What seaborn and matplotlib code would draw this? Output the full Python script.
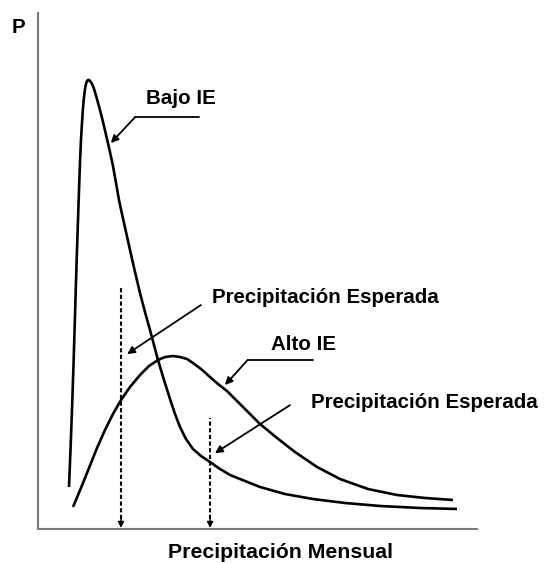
import matplotlib
matplotlib.use("Agg")
import matplotlib.pyplot as plt
import seaborn as sns
import pandas as pd

# --- data (arbitrary units) ---
bajo_x = [7.06, 7.40, 7.74, 8.09, 8.43, 8.77, 9.11, 9.34, 9.57, 9.79, 10.02, 10.25,
          10.48, 10.71, 10.93, 11.16, 11.39, 11.62, 11.85, 12.19, 12.53, 12.98, 13.44,
          14.12, 14.81, 15.72, 16.40, 17.08, 17.77, 18.45, 19.13, 20.05, 20.96, 22.10,
          23.23, 24.37, 25.51, 26.42, 27.33, 28.70, 30.07, 31.21, 32.35, 33.71, 35.31,
          37.13, 39.18, 41.46, 43.74, 47.15, 50.57, 56.26, 62.64, 69.93, 77.90, 87.02,
          95.44]
bajo_y = [8.14, 15.31, 23.06, 31.78, 41.47, 51.16, 59.88, 65.70, 71.12, 75.39, 78.68,
          81.59, 83.72, 85.27, 86.24, 86.82, 87.02, 87.02, 86.82, 86.43, 85.85, 84.69,
          83.33, 81.20, 78.88, 75.58, 73.06, 70.35, 67.05, 63.76, 61.05, 57.56, 54.07,
          49.81, 45.74, 42.05, 38.57, 35.66, 32.75, 28.88, 25.19, 22.29, 19.77, 17.44,
          15.50, 14.15, 12.98, 11.63, 10.47, 9.30, 8.14, 6.78, 5.81, 5.04, 4.46, 4.07,
          3.88]

alto_x = [7.97, 9.79, 11.62, 13.44, 15.26, 17.08, 18.91, 20.96, 23.23, 25.28, 27.33,
          28.93, 30.75, 32.35, 33.94, 35.31, 37.13, 39.18, 41.00, 43.05, 46.70, 50.57,
          54.44, 58.54, 63.55, 68.79, 75.17, 81.78, 88.15, 94.53]
alto_y = [4.26, 7.95, 11.82, 15.70, 19.19, 22.29, 25.00, 27.52, 29.84, 31.59, 32.75,
          33.33, 33.53, 33.33, 32.95, 32.17, 31.01, 29.46, 28.10, 26.74, 23.64, 20.35,
          17.64, 14.92, 12.02, 9.69, 7.75, 6.59, 6.01, 5.62]

esperada_x = [18.9, 39.2]      # expected precipitation (Bajo IE, Alto IE)
esperada_top = [47.1, 21.5]

labels = ["Bajo IE", "Precipitación Esperada", "Alto IE", "Precipitación Esperada"]

df = pd.concat([
    pd.DataFrame({"x": bajo_x, "y": bajo_y, "serie": "Bajo IE"}),
    pd.DataFrame({"x": alto_x, "y": alto_y, "serie": "Alto IE"}),
])

sns.set_theme(style="white")
plt.rcParams["font.family"] = ["Liberation Sans", "DejaVu Sans"]

fig = plt.figure(figsize=(5.46, 5.63), dpi=100)
ax = fig.add_axes([38 / 546, 34 / 563, 439 / 546, 516 / 563])

sns.lineplot(data=df, x="x", y="y", units="serie", estimator=None, sort=False,
             color="black", lw=1.9, ax=ax, legend=False)
for ln in ax.get_lines():
    ln.set_solid_joinstyle("round")
    ln.set_solid_capstyle("butt")

ax.set_xlim(0, 100)
ax.set_ylim(0, 100)
ax.set_xticks([])
ax.set_yticks([])
ax.set_xlabel("")
ax.set_ylabel("")
for s in ["top", "right"]:
    ax.spines[s].set_visible(False)
for s in ["left", "bottom"]:
    ax.spines[s].set_color("#7a7a7a")
    ax.spines[s].set_linewidth(1.5)

# dashed arrows for expected precipitation
for xv, top in zip(esperada_x, esperada_top):
    ax.vlines(xv, 2.0, top, colors="black", lw=1.5, linestyles=(0, (2.0, 1.2)))
    ax.annotate("", xy=(xv, 0.2), xytext=(xv, 2.6),
                arrowprops=dict(arrowstyle="-|>", color="black", lw=1.0,
                                mutation_scale=9, shrinkA=0, shrinkB=0))

fs = 14.8
tkw = dict(fontsize=fs, fontweight="bold", color="black")
akw = dict(arrowstyle="-|>", color="black", lw=1.3, mutation_scale=11,
           shrinkA=0, shrinkB=0)

# Bajo IE
ax.text(32.6, 82.4, labels[0], ha="center", va="baseline", **tkw)
ax.plot([36.7, 22.1], [79.8, 79.8], color="black", lw=1.3)
ax.annotate("", xy=(16.6, 74.8), xytext=(22.1, 79.8), arrowprops=akw)

# Precipitación Esperada 1
ax.text(39.6, 43.8, labels[1], ha="left", va="baseline", **tkw)
ax.annotate("", xy=(20.3, 33.9), xytext=(37.1, 43.4), arrowprops=akw)

# Alto IE
ax.text(60.4, 34.7, labels[2], ha="center", va="baseline", **tkw)
ax.plot([62.6, 47.8], [32.8, 32.8], color="black", lw=1.3)
ax.annotate("", xy=(42.6, 27.9), xytext=(47.8, 32.8), arrowprops=akw)

# Precipitación Esperada 2
ax.text(62.2, 23.4, labels[3], ha="left", va="baseline", **tkw)
ax.annotate("", xy=(40.3, 14.7), xytext=(57.4, 24.0), arrowprops=akw)

fig.text(12 / 546, 1 - 33 / 563, "P", ha="left", va="baseline", **tkw)
fig.text(280 / 546, 1 - 558 / 563, "Precipitación Mensual", ha="center",
         va="baseline", fontsize=15.3, fontweight="bold", color="black")

fig.savefig("out.png", dpi=100)
